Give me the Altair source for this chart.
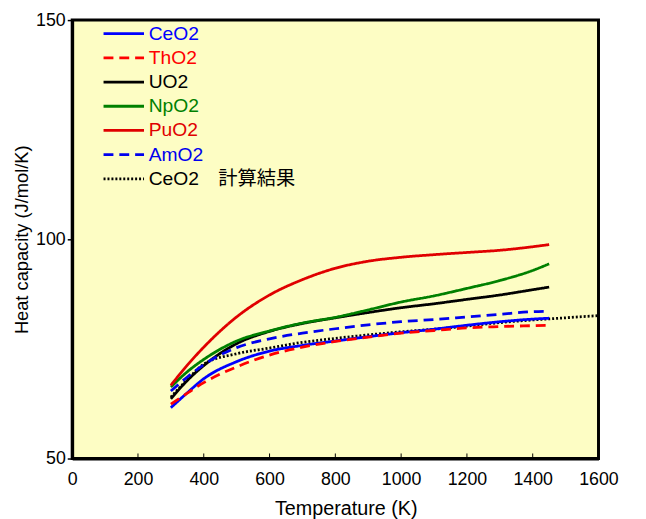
import altair as alt
import pandas as pd

series = ["CeO2", "ThO2", "UO2", "NpO2", "PuO2", "AmO2", "CeO2\u3000計算結果"]
colors = ["#0000ff", "#ff0000", "#000000", "#008000", "#e00000", "#0000ee", "#000000"]
dashes = [[1, 0], [10, 6], [1, 0], [1, 0], [1, 0], [10, 6], [2, 2]]
widths = [2.8, 2.8, 2.8, 2.8, 2.8, 2.8, 1.4]

temps = [300, 350, 400, 500, 600, 700, 800, 900, 1000, 1100, 1200, 1300, 1400, 1450]
ceo2 = [61.6, 65.0, 68.2, 72.1, 74.5, 75.8, 76.8, 77.8, 78.7, 79.5, 80.4, 81.2, 81.8, 82.0]
tho2 = [62.4, 64.9, 67.3, 70.9, 73.6, 75.4, 76.7, 77.7, 78.6, 79.2, 79.8, 80.1, 80.3, 80.4]
uo2 = [63.6, 67.8, 71.2, 76.2, 79.0, 80.8, 82.1, 83.3, 84.4, 85.3, 86.3, 87.3, 88.5, 89.1]
npo2 = [66.3, 69.8, 72.6, 76.8, 79.1, 80.9, 82.2, 83.9, 85.7, 87.1, 88.8, 90.6, 92.9, 94.4]
puo2 = [66.7, 71.3, 75.4, 82.3, 87.3, 90.8, 93.4, 95.0, 95.9, 96.5, 97.0, 97.5, 98.3, 98.8]
amo2 = [65.4, 68.6, 71.4, 75.3, 77.3, 78.6, 79.6, 80.5, 81.2, 81.7, 82.3, 82.9, 83.5, 83.6]

calc_temps = [300, 350, 400, 500, 600, 700, 800, 900, 1000, 1100, 1200, 1300, 1400, 1500, 1600]
calc = [64.0, 68.0, 71.5, 73.9, 75.2, 76.5, 77.4, 78.2, 78.9, 79.5, 80.2, 81.0, 81.6, 82.1, 82.6]

x_ticks = [0, 200, 400, 600, 800, 1000, 1200, 1400, 1600]
y_ticks = [50, 100, 150]

rows = []
for name, vals in zip(series[:6], [ceo2, tho2, uo2, npo2, puo2, amo2]):
    for t, v in zip(temps, vals):
        rows.append({"T": t, "Cp": v, "s": name})
main_df = pd.DataFrame(rows)
calc_df = pd.DataFrame({"T": calc_temps, "Cp": calc, "s": series[6]})
tick_df = pd.DataFrame({"x": x_ticks, "y0": 50, "y1": 51.15})

label_expr = " : ".join(
    f"datum.label == '{s}' ? '{c}'" for s, c in zip(series, colors)
) + " : 'black'"

xs = alt.Scale(domain=[0, 1600], nice=False)
ys = alt.Scale(domain=[50, 150], nice=False)

color_enc = alt.Color(
    "s:N",
    scale=alt.Scale(domain=series, range=colors),
    title=None,
    legend=alt.Legend(
        orient="none",
        legendX=42.5,
        legendY=4,
        symbolType="M-4.1,0H4.1",
        symbolSize=100,
        symbolStrokeWidth=2.8,
        labelFontSize=19.5,
        labelFont="Liberation Sans, Noto Sans CJK JP",
        labelOffset=15.5,
        rowPadding=3.5,
        padding=0,
        labelColor={"expr": label_expr},
        labelLimit=400,
    ),
)
dash_enc = alt.StrokeDash("s:N", scale=alt.Scale(domain=series, range=dashes), title=None)
width_enc = alt.StrokeWidth("s:N", scale=alt.Scale(domain=series, range=widths), legend=None)

x_enc = alt.X(
    "T:Q",
    scale=xs,
    axis=alt.Axis(
        values=x_ticks,
        format="d",
        labelOverlap=False,
        labelFlush=False,
        ticks=False,
        title="Temperature (K)",
        titleFontSize=20,
        labelPadding=12,
        titlePadding=11,
        titleX=277,
    ),
)
y_enc = alt.Y(
    "Cp:Q",
    scale=ys,
    axis=alt.Axis(
        values=y_ticks,
        title="Heat capacity (J/mol/K)",
        titleFontSize=18.5,
        tickSize=5,
        tickWidth=1.5,
        labelPadding=2,
        titlePadding=4,
    ),
)

calc_layer = alt.Chart(calc_df).mark_line(interpolate="monotone").encode(
    x=x_enc, y=y_enc, color=color_enc, strokeDash=dash_enc, strokeWidth=width_enc
)
main_layer = alt.Chart(main_df).mark_line(interpolate="monotone").encode(
    x=x_enc, y=y_enc, color=color_enc, strokeDash=dash_enc, strokeWidth=width_enc
)
tick_layer = alt.Chart(tick_df).mark_rule(color="black", strokeWidth=1).encode(
    x=alt.X("x:Q", scale=xs), y=alt.Y("y0:Q", scale=ys), y2="y1:Q"
)

chart = (
    alt.layer(calc_layer, main_layer, tick_layer)
    .properties(
        width=533,
        height=444,
        autosize=alt.AutoSizeParams(type="none"),
        padding={"left": 65, "top": 9, "right": 40, "bottom": 58},
    )
    .configure_view(fill="#fdfdc4", stroke="black", strokeWidth=3)
    .configure_axis(
        domainColor="black",
        domainWidth=3,
        grid=False,
        labelFont="Liberation Sans",
        titleFont="Liberation Sans",
        labelFontSize=18,
        titleFontSize=18,
        titleFontWeight="normal",
        labelColor="black",
        titleColor="black",
        tickColor="black",
    )
)

chart.save("out.html", embed_options={"renderer": "svg", "actions": False})
